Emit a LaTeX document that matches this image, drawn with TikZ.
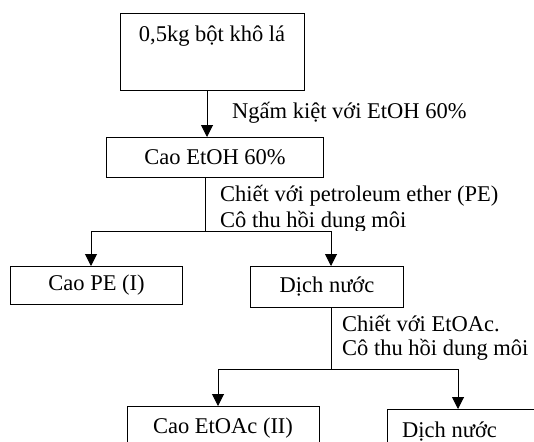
\documentclass[tikz,border=0pt]{standalone}
\usepackage{fontspec}
\setmainfont{Liberation Serif}
\usetikzlibrary{arrows.meta}
\begin{document}
\begin{tikzpicture}[x=1pt,y=-1pt,
  box/.style={draw, line width=1pt, inner sep=0pt, anchor=north west, font=\fontsize{22.5}{26}\selectfont},
  lbl/.style={anchor=base west, inner sep=0pt, font=\fontsize{22.5}{26}\selectfont},
  txt/.style={anchor=base, inner sep=0pt, font=\fontsize{22.5}{26}\selectfont},
  ln/.style={line width=1pt},
  arr/.style={line width=1pt, -{Triangle[width=12pt,length=12pt]}}]
\useasboundingbox[fill=white] (0,0) rectangle (534,441);
\clip (0,0) rectangle (534,441);
% boxes
\node[box, minimum width=184pt, minimum height=77pt] (b1) at (120,13) {};
\node[txt] (b1t) at (212,42) {0,5kg bột khô lá};
\node[box, minimum width=217pt, minimum height=40pt] (b2) at (106,137) {Cao EtOH 60\%};
\node[box, minimum width=172pt, minimum height=38pt] (b3) at (10,266) {Cao PE (I)};
\node[box, minimum width=153pt, minimum height=41pt] (b4) at (250,266) {Dịch nước};
\node[box, minimum width=192pt, minimum height=60pt] (b5) at (127,406) {};
\node[txt] (b5t) at (223,433) {Cao EtOAc (II)};
\node[box, minimum width=180pt, minimum height=60pt] (b6) at (387,409) {};
\node[lbl] (b6t) at (402,437) {Dịch nước};
% labels
\node[lbl] (l1) at (232,118) {Ngấm kiệt với EtOH 60\%};
\node[lbl] (l2) at (220,201) {Chiết với petroleum ether (PE)};
\begin{scope}
\clip (200,205) rectangle (534,230);
\node[lbl] (l3) at (220,227) {Cô thu hồi dung môi};
\end{scope}
\node[lbl] (l4) at (342,331) {Chiết với EtOAc.};
\node[lbl] (l5) at (342,355) {Cô thu hồi dung môi};
% connectors
\coordinate (a1) at (207,0);
\draw[arr] (b1.south -| a1) -- (b2.north -| a1);
\coordinate (j1) at (205,231);
\coordinate (jl1) at (91,231);
\coordinate (jr1) at (331,231);
\draw[ln] (b2.south -| j1) -- (j1);
\draw[ln] (jl1) -- (jr1);
\draw[arr] (jl1) -- (jl1 |- b3.north);
\draw[arr] (jr1) -- (jr1 |- b4.north);
\coordinate (j2) at (331,369);
\coordinate (jl2) at (218,369);
\coordinate (jr2) at (458,369);
\draw[ln] (b4.south -| j2) -- (j2);
\draw[ln] (jl2) -- (jr2);
\draw[arr] (jl2) -- (jl2 |- b5.north);
\draw[arr] (jr2) -- (jr2 |- b6.north);
\end{tikzpicture}
\end{document}
